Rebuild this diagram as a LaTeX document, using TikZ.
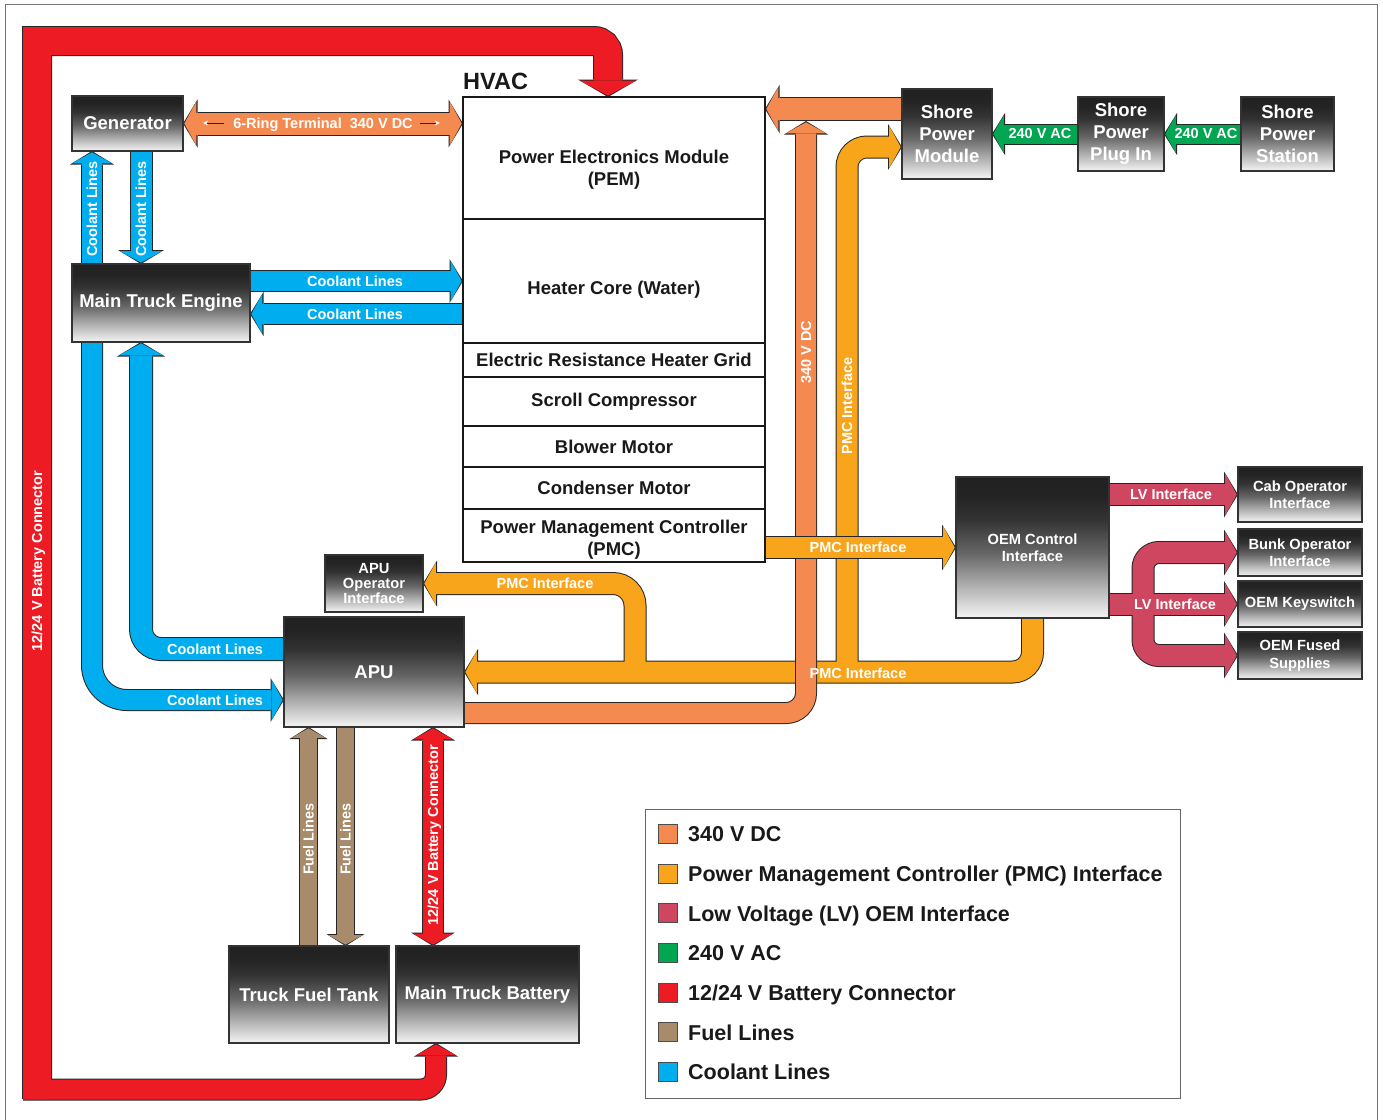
\documentclass[tikz,border=0pt]{standalone}
\usepackage{fontspec}
\setmainfont{Liberation Sans}
\usetikzlibrary{arrows.meta,calc,positioning,backgrounds}

\definecolor{dcorange}{HTML}{F58A50}
\definecolor{pmcorange}{HTML}{F9A51B}
\definecolor{lvred}{HTML}{CF4661}
\definecolor{acgreen}{HTML}{00A651}
\definecolor{battred}{HTML}{ED1C24}
\definecolor{fuelbrown}{HTML}{A78B6B}
\definecolor{coolblue}{HTML}{00AEEF}
\colorlet{shA}{black!4}
\colorlet{shB}{black!30}
\colorlet{shC}{black!60}
\colorlet{shD}{black!80}
\colorlet{shE}{black!86}
\colorlet{shF}{black!87}
\pgfdeclareverticalshading{unitshade}{100bp}{color(0bp)=(shA); color(25bp)=(shA); color(36bp)=(shB); color(48bp)=(shC); color(60bp)=(shD); color(68bp)=(shE); color(75bp)=(shF); color(100bp)=(shF)}

\newcommand\boxfont{\fontsize{18.5}{22}\selectfont\bfseries}
\newcommand\smallboxfont{\fontsize{14.7}{17.5}\selectfont\bfseries}
\newcommand\tagfont{\fontsize{14.5}{17}\selectfont\bfseries}
\newcommand\legfont{\fontsize{21.5}{25}\selectfont\bfseries}
\newcommand\titlefont{\fontsize{23.5}{28}\selectfont\bfseries}
% pushes the first line of a row text down
\newcommand\drop[1]{\rule{0pt}{#1}}

% fat bands: black outline first, coloured core on top
\newcommand\pipeback[3][]{%
  \pgfmathsetlengthmacro\pipew{#2+2}%
  \pgfmathsetlengthmacro\headw{2*#2+4}%
  \pgfmathsetlengthmacro\headl{0.5*#2+3.5}%
  \def\heads{0pt}%
  \draw[line width=\pipew, draw=black!85, #1] #3;}
\newcommand\pipefront[4][]{%
  \pgfmathsetlengthmacro\pipew{#3}%
  \pgfmathsetlengthmacro\headw{2*#3}%
  \pgfmathsetlengthmacro\headl{0.5*#3+1}%
  \def\heads{1.3pt}%
  \draw[line width=\pipew, draw=#2, #1] #4;}
\newcommand\pipe[4][]{\pipeback[#1]{#3}{#4}\pipefront[#1]{#2}{#3}{#4}}

\tikzset{
  unitbox/.style={draw=black!80, line width=1.2pt, shade, shading=unitshade, text=white,
    align=center, inner sep=1pt, outer sep=0pt, font=\boxfont},
  smallunit/.style={unitbox, font=\smallboxfont},
  hvacrow/.style={draw=black!90, line width=2pt, fill=white, minimum width=302pt,
    outer sep=0pt, inner sep=0pt, align=center, text=black!90, font=\boxfont},
  flowtag/.style={text=white, font=\tagfont, inner sep=0pt, text height=10.4pt, text depth=0pt},
  swatch/.style={draw=black!70, line width=0.8pt, minimum size=19pt, inner sep=0pt, outer sep=0pt},
  legtext/.style={text=black!90, font=\legfont, inner sep=0pt, anchor=base west},
  tipE/.style={-{Triangle[width=\headw,length=\headl,line width=0pt]}, shorten >=\heads},
  tipB/.style={{Triangle[width=\headw,length=\headl,line width=0pt]}-{Triangle[width=\headw,length=\headl,line width=0pt]},
    shorten <=\heads, shorten >=\heads},
}

\begin{document}
\begin{tikzpicture}[x=1pt, y=-1pt]
  \useasboundingbox (0,0) rectangle (1383,1119);
  \draw[black!55, line width=1.5pt] (5.5,1130) -- (5.5,4.5) -- (1377.5,4.5) -- (1377.5,1130);

  % units
  \node[unitbox, minimum width=111pt, minimum height=55pt] (gen) at (127.5,123.5) {Generator};
  \node[unitbox, minimum width=178pt, minimum height=78pt] (engine) at (161,303) {Main Truck Engine};

  \node[hvacrow, minimum height=122pt] (pem) at (614,158) {\drop{37.5pt}Power Electronics Module\\(PEM)};
  \node[hvacrow, minimum height=124pt, below=0pt of pem] (heater) {\drop{31.5pt}Heater Core (Water)};
  \node[hvacrow, minimum height=34pt, below=0pt of heater] (grid) {Electric Resistance Heater Grid};
  \node[hvacrow, minimum height=49pt, below=0pt of grid] (scroll) {Scroll Compressor};
  \node[hvacrow, minimum height=41pt, below=0pt of scroll] (blower) {Blower Motor};
  \node[hvacrow, minimum height=42pt, below=0pt of blower] (condenser) {Condenser Motor};
  \node[hvacrow, minimum height=53pt, below=0pt of condenser] (pmc) {\drop{21.5pt}Power Management Controller\\(PMC)};
  \node[anchor=base west, inner sep=0pt, text=black!90, font=\titlefont] (hvac) at ($(pem.north west)+(0,-8)$) {HVAC};

  \node[unitbox, minimum width=90pt, minimum height=90pt] (spm) at (947,134) {Shore\\Power\\Module};
  \node[unitbox, minimum width=86pt, minimum height=74pt] (spp) at (1121,134) {Shore\\Power\\Plug In};
  \node[unitbox, minimum width=93pt, minimum height=74pt] (sps) at (1287.5,134) {Shore\\Power\\Station};

  \node[smallunit, minimum width=153pt, minimum height=141pt] (oem) at (1032.5,547.5) {OEM Control\\Interface};
  \node[smallunit, minimum width=124pt, minimum height=55pt] (cab) at (1300,494.5) {Cab Operator\\Interface};
  \node[smallunit, minimum width=124pt, minimum height=47pt] (bunk) at (1300,552.5) {Bunk Operator\\Interface};
  \node[smallunit, minimum width=124pt, minimum height=46pt] (keysw) at (1300,604) {OEM Keyswitch};
  \node[smallunit, minimum width=124pt, minimum height=47pt] (fused) at (1300,655.5) {OEM Fused\\Supplies};

  \node[smallunit, minimum width=98pt, minimum height=57pt, font=\fontsize{14.7}{15}\selectfont\bfseries] (apuop) at (374,583.5) {APU\\Operator\\Interface};
  \node[unitbox, minimum width=180pt, minimum height=110pt] (apu) at (374,672) {APU};
  \node[unitbox, minimum width=160pt, minimum height=97pt] (tank) at (309,994.5) {Truck Fuel Tank};
  \node[unitbox, minimum width=183pt, minimum height=97pt] (battery) at (487.5,994.5) {Main Truck Battery};

  % bands
  \begin{scope}[on background layer]
    % 12/24 V loop
    \coordinate (rTop) at (608,41);
    \coordinate (rBot) at (436,1089.5);
    \pipeback[rounded corners=15pt, tipE]{20}{(23,1089.5) -- (rBot) -- (rBot |- battery.south)}
    \pipeback[tipE]{28}{(37,1099) -- (37,41) -- (560,41) [rounded corners=14pt] -- (rTop) -- (rTop |- pem.north)}
    \pipefront[rounded corners=15pt, tipE]{battred}{20}{(23,1089.5) -- (rBot) -- (rBot |- battery.south)}
    \pipefront[tipE]{battred}{28}{(37,1099) -- (37,41) -- (560,41) [rounded corners=14pt] -- (rTop) -- (rTop |- pem.north)}
    \coordinate (bX) at (433,0);
    \pipe[tipB]{battred}{20}{(bX |- apu.south) -- (bX |- battery.north)}

    % coolant
    \coordinate (cA) at (92,0);
    \coordinate (cB) at (141,0);
    \coordinate (cD) at ($(heater.west)+(0,33)$);
    \coordinate (cE) at ($(apu.west)+(0,28)$);
    \coordinate (cF) at ($(apu.west)+(0,-23)$);
    \pipe[tipE]{coolblue}{20}{(cA |- engine.north) -- (cA |- gen.south)}
    \pipe[tipE]{coolblue}{21}{(cB |- gen.south) -- (cB |- engine.north)}
    \pipe[tipE]{coolblue}{20}{(heater.west -| engine.east) -- (heater.west)}
    \pipe[tipE]{coolblue}{20}{(cD) -- (cD -| engine.east)}
    \pipe[rounded corners=35pt, tipE]{coolblue}{20}{(cA |- engine.south) |- (cE)}
    \pipe[rounded corners=20pt, tipE]{coolblue}{22}{(cF) -| (cB |- engine.south)}

    % fuel
    \coordinate (fL) at (308.5,0);
    \coordinate (fR) at (345.5,0);
    \pipe[tipE]{fuelbrown}{17}{(fL |- tank.north) -- (fL |- apu.south)}
    \pipe[tipE]{fuelbrown}{17}{(fR |- apu.south) -- (fR |- tank.north)}

    % 240 V AC
    \pipe[tipE]{acgreen}{19}{(spp.west) -- (spm.east)}
    \pipe[tipE]{acgreen}{19}{(sps.west) -- (spp.east)}

    % PMC bus
    \coordinate (pmcShore) at (847,672);
    \coordinate (pmcApu) at (635,672);
    \pipeback[rounded corners=20pt, tipE]{21}{(oem.south) |- (apu.east)}
    \pipeback[rounded corners=20pt, tipE]{21}{(pmcShore) |- ($(spm.west)+(0,13)$)}
    \pipeback[rounded corners=22pt, tipE]{21}{(pmcApu) |- (apuop.east)}
    \pipefront[rounded corners=20pt, tipE]{pmcorange}{21}{(oem.south) |- (apu.east)}
    \pipefront[rounded corners=20pt, tipE]{pmcorange}{21}{(pmcShore) |- ($(spm.west)+(0,13)$)}
    \pipefront[rounded corners=22pt, tipE]{pmcorange}{21}{(pmcApu) |- (apuop.east)}

    % 340 V DC
    \coordinate (dcIn) at ($(spm.west)+(0,-25)$);
    \coordinate (dcApu) at ($(apu.east)+(0,41)$);
    \pipe[tipE]{dcorange}{22}{(dcIn) -- (dcIn -| pem.east)}
    \pipe[rounded corners=20pt, tipE]{dcorange}{20}{(dcApu) -| ($(dcIn)+(-96,12)$)}
    \pipe[tipB]{dcorange}{22}{(gen.east) -- (gen.east -| pem.west)}

    \pipe[tipE]{pmcorange}{21}{(oem.west -| pmc.east) -- (oem.west)}

    % LV
    \coordinate (lvFork) at (1143,604);
    \pipe[tipE]{lvred}{21}{(cab.west -| oem.east) -- (cab.west)}
    \pipeback[tipE]{21}{(keysw.west -| oem.east) -- (keysw.west)}
    \pipeback[rounded corners=16pt, tipE]{21}{(lvFork) |- (bunk.west)}
    \pipeback[rounded corners=16pt, tipE]{21}{(lvFork) |- (fused.west)}
    \pipefront[tipE]{lvred}{21}{(keysw.west -| oem.east) -- (keysw.west)}
    \pipefront[rounded corners=16pt, tipE]{lvred}{21}{(lvFork) |- (bunk.west)}
    \pipefront[rounded corners=16pt, tipE]{lvred}{21}{(lvFork) |- (fused.west)}
  \end{scope}

  % band labels
  \node[flowtag, rotate=90] (lblLoop) at (37,561) {12/24 V Battery Connector};
  \node[flowtag] (lblRing) at (323,123) {6-Ring Terminal\ \ 340 V DC};
  \draw[black!85, line width=1pt, -{Stealth[color=white, fill=white, length=5pt, width=5pt, line width=0pt]}]
    ($(lblRing.west)+(-9,0)$) -- ++(-21,0);
  \draw[black!85, line width=1pt, -{Stealth[color=white, fill=white, length=5pt, width=5pt, line width=0pt]}]
    ($(lblRing.east)+(7,0)$) -- ++(20,0);
  \node[flowtag, rotate=90] (lblCoolUp) at (92,209) {Coolant Lines};
  \node[flowtag, rotate=90] (lblCoolDown) at (141,209) {Coolant Lines};
  \node[flowtag] (lblCoolIn) at (355,281) {Coolant Lines};
  \node[flowtag] (lblCoolOut) at (355,314) {Coolant Lines};
  \node[flowtag] (lblCoolApuA) at (215,649) {Coolant Lines};
  \node[flowtag] (lblCoolApuB) at (215,700) {Coolant Lines};
  \node[flowtag] (lblAcA) at (1040,133) {240 V AC};
  \node[flowtag] (lblAcB) at (1206,133) {240 V AC};
  \node[flowtag, rotate=90] (lblDc) at (806,352) {340 V DC};
  \node[flowtag, rotate=90] (lblPmcShore) at (847,406) {PMC Interface};
  \node[flowtag] (lblPmcOem) at (858,547) {PMC Interface};
  \node[flowtag] (lblPmcBus) at (858,673) {PMC Interface};
  \node[flowtag] (lblPmcApu) at (545,583) {PMC Interface};
  \node[flowtag] (lblLvCab) at (1171,494) {LV Interface};
  \node[flowtag] (lblLvOem) at (1175,604) {LV Interface};
  \node[flowtag, rotate=90] (lblFuelA) at (308.5,839) {Fuel Lines};
  \node[flowtag, rotate=90] (lblFuelB) at (345.5,839) {Fuel Lines};
  \node[flowtag, rotate=90] (lblBatt) at (433,835) {12/24 V Battery Connector};

  % legend
  \node[draw=black!60, line width=1pt, minimum width=535pt, minimum height=289pt, inner sep=0pt,
    anchor=north west] (legend) at (645,809) {};
  \foreach \col/\txt [count=\i from 0] in {dcorange/340 V DC,
      pmcorange/Power Management Controller (PMC) Interface,
      lvred/Low Voltage (LV) OEM Interface, acgreen/240 V AC,
      battred/{12/24 V Battery Connector}, fuelbrown/Fuel Lines, coolblue/Coolant Lines}{
    \node[swatch, fill=\col] (sw\i) at (667.5,{834+39.67*\i}) {};
    \node[legtext] (key\i) at (688,{841.7+39.67*\i}) {\txt};
  }
\end{tikzpicture}
\end{document}
